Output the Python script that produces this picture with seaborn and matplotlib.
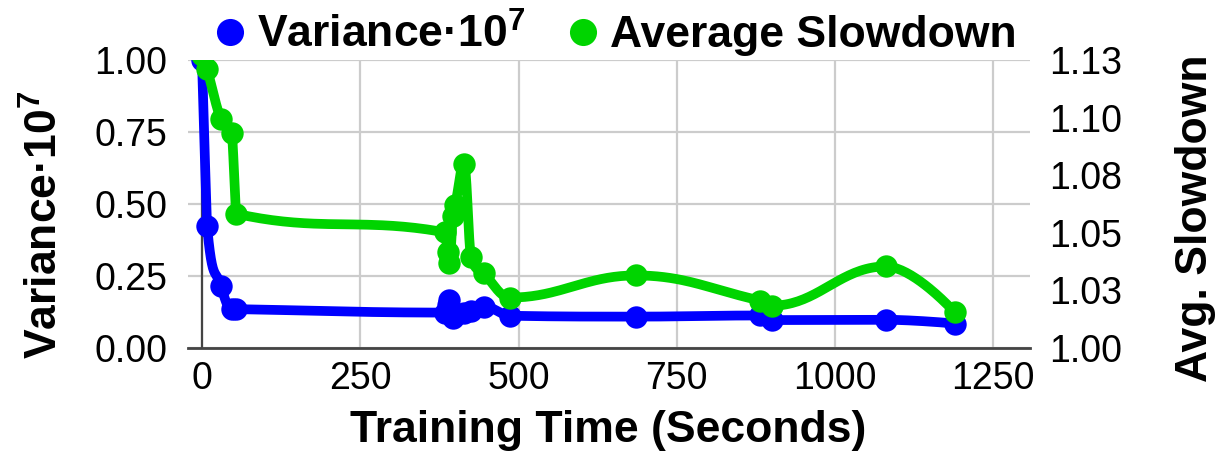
import matplotlib
matplotlib.use("Agg")
import matplotlib.pyplot as plt
import seaborn as sns
import numpy as np
import pandas as pd
from matplotlib.lines import Line2D

# Training snapshots: time in seconds, normalised variance and average slowdown
train_time = [0, 8, 30, 47, 54, 384, 388, 391, 396, 400, 414, 425, 445, 487,
              685, 882, 901, 1080, 1189]
variance = [1.0, 0.425, 0.216, 0.136, 0.135, 0.123, 0.150, 0.165, 0.105, 0.115,
            0.123, 0.130, 0.144, 0.112, 0.109, 0.113, 0.097, 0.098, 0.085]
avg_slowdown = [1.127, 1.121, 1.0993, 1.0935, 1.0583, 1.0502, 1.0415, 1.0371,
                1.0571, 1.0619, 1.0797, 1.0393, 1.0325, 1.0219, 1.0315, 1.0206,
                1.0184, 1.0354, 1.0155]

x_ticks = [0, 250, 500, 750, 1000, 1250]
var_ticks = [0.0, 0.25, 0.5, 0.75, 1.0]
var_tick_labels = ["0.00", "0.25", "0.50", "0.75", "1.00"]
slow_ticks = [1.0, 1.025, 1.05, 1.075, 1.1, 1.125]
slow_tick_labels = ["1.00", "1.03", "1.05", "1.08", "1.10", "1.13"]

BLUE = "#0000ff"
GREEN = "#00d400"
FONT = ["Liberation Sans", "DejaVu Sans"]
VAR_LABEL = r"Variance·10$^{\mathbf{7}}$"


def spline_path(xs, ys, steps=40):
    """Smooth curve through the points using cubic Bezier segments."""
    xs = np.asarray(xs, float)
    ys = np.asarray(ys, float)
    n = len(xs)
    smoothing = 1.5
    denom = smoothing + 1
    left = [None] * n
    right = [None] * n
    for i in range(1, n - 1):
        px, py = xs[i], ys[i]
        lx, ly = xs[i - 1], ys[i - 1]
        nx, ny = xs[i + 1], ys[i + 1]
        lcx = (smoothing * px + lx) / denom
        lcy = (smoothing * py + ly) / denom
        rcx = (smoothing * px + nx) / denom
        rcy = (smoothing * py + ny) / denom
        corr = 0.0
        if rcx != lcx:
            corr = (rcy - lcy) * (rcx - px) / (rcx - lcx) + py - rcy
        lcy += corr
        rcy += corr
        if lcy > ly and lcy > py:
            lcy = max(ly, py)
            rcy = 2 * py - lcy
        elif lcy < ly and lcy < py:
            lcy = min(ly, py)
            rcy = 2 * py - lcy
        if rcy > ny and rcy > py:
            rcy = max(ny, py)
            lcy = 2 * py - rcy
        elif rcy < ny and rcy < py:
            rcy = min(ny, py)
            lcy = 2 * py - rcy
        left[i] = (lcx, lcy)
        right[i] = (rcx, rcy)
    t = np.linspace(0, 1, steps)
    out_x, out_y = [xs[0]], [ys[0]]
    for i in range(1, n):
        p0 = (xs[i - 1], ys[i - 1])
        p3 = (xs[i], ys[i])
        c1 = right[i - 1] if right[i - 1] is not None else p0
        c2 = left[i] if left[i] is not None else p3
        bx = ((1 - t) ** 3 * p0[0] + 3 * (1 - t) ** 2 * t * c1[0]
              + 3 * (1 - t) * t ** 2 * c2[0] + t ** 3 * p3[0])
        by = ((1 - t) ** 3 * p0[1] + 3 * (1 - t) ** 2 * t * c1[1]
              + 3 * (1 - t) * t ** 2 * c2[1] + t ** 3 * p3[1])
        out_x.extend(bx[1:])
        out_y.extend(by[1:])
    return pd.DataFrame({"x": out_x, "y": out_y})


sns.set_theme(style="white")
plt.rcParams["font.family"] = FONT
plt.rcParams["text.color"] = "black"
plt.rcParams["axes.labelcolor"] = "black"
plt.rcParams["mathtext.fontset"] = "custom"
plt.rcParams["mathtext.rm"] = "Liberation Sans"
plt.rcParams["mathtext.bf"] = "Liberation Sans:bold"

fig = plt.figure(figsize=(12.21, 4.66), dpi=100)
ax = fig.add_axes([0.154, 0.2532, 0.6896, 0.6180])
ax2 = ax.twinx()

df = pd.DataFrame({"time": train_time, "variance": variance,
                   "slowdown": avg_slowdown})

# Variance (left axis)
var_curve = spline_path(df["time"], df["variance"])
sns.lineplot(data=var_curve, x="x", y="y", sort=False, estimator=None,
             color=BLUE, linewidth=7.0, ax=ax, zorder=3)
sns.scatterplot(data=df, x="time", y="variance", color=BLUE, s=260,
                linewidth=0, ax=ax, zorder=4)

# Average slowdown (right axis)
slow_curve = spline_path(df["time"], df["slowdown"])
sns.lineplot(data=slow_curve, x="x", y="y", sort=False, estimator=None,
             color=GREEN, linewidth=7.0, ax=ax2, zorder=3)
sns.scatterplot(data=df, x="time", y="slowdown", color=GREEN, s=260,
                linewidth=0, ax=ax2, zorder=4)

ax.set_xlim(-22, 1308)
ax.set_ylim(0, 1.0)
ax2.set_ylim(1.0, 1.125)

ax.set_xticks(x_ticks)
ax.set_xticklabels([str(v) for v in x_ticks])
ax.set_yticks(var_ticks)
ax.set_yticklabels(var_tick_labels)
ax2.set_yticks(slow_ticks)
ax2.set_yticklabels(slow_tick_labels)

ax.grid(True, color="#cccccc", linewidth=1.6, zorder=0)
ax.set_axisbelow(True)
ax2.grid(False)
ax.axvline(0, color="#444444", linewidth=1.6, zorder=1)

for a in (ax, ax2):
    for side in ("top", "left", "right", "bottom"):
        a.spines[side].set_visible(False)
ax.spines["bottom"].set_visible(True)
ax.spines["bottom"].set_color("#444444")
ax.spines["bottom"].set_linewidth(2.0)

ax.tick_params(axis="x", length=0, pad=9, labelsize=27, colors="black")
ax.tick_params(axis="y", length=0, pad=15, labelsize=27, colors="black")
ax2.tick_params(axis="y", length=0, pad=14, labelsize=27, colors="black")

ax.set_xlabel("Training Time (Seconds)", fontsize=32, fontweight="bold")
ax.set_ylabel(VAR_LABEL, fontsize=32, fontweight="bold")
ax2.set_ylabel("Avg. Slowdown", fontsize=32, fontweight="bold")
ax.xaxis.set_label_coords(0.499, -0.285)
ax.xaxis.label.set_va("center")
ax.yaxis.set_label_coords(-0.170, 0.427)
ax.yaxis.label.set_va("center")
ax2.yaxis.set_label_coords(1.196, 0.451)
ax2.yaxis.label.set_va("center")

handles = [
    Line2D([], [], marker="o", linestyle="none", markersize=19.5,
           markerfacecolor=BLUE, markeredgewidth=0),
    Line2D([], [], marker="o", linestyle="none", markersize=19.5,
           markerfacecolor=GREEN, markeredgewidth=0),
]
fig.legend(handles, [VAR_LABEL, "Average Slowdown"],
           loc="center", bbox_to_anchor=(0.505, 0.925), ncol=2,
           frameon=False, handlelength=0.6, handletextpad=0.3,
           columnspacing=1.0, prop={"size": 32, "weight": "bold"})

fig.savefig("out.png", dpi=100)
